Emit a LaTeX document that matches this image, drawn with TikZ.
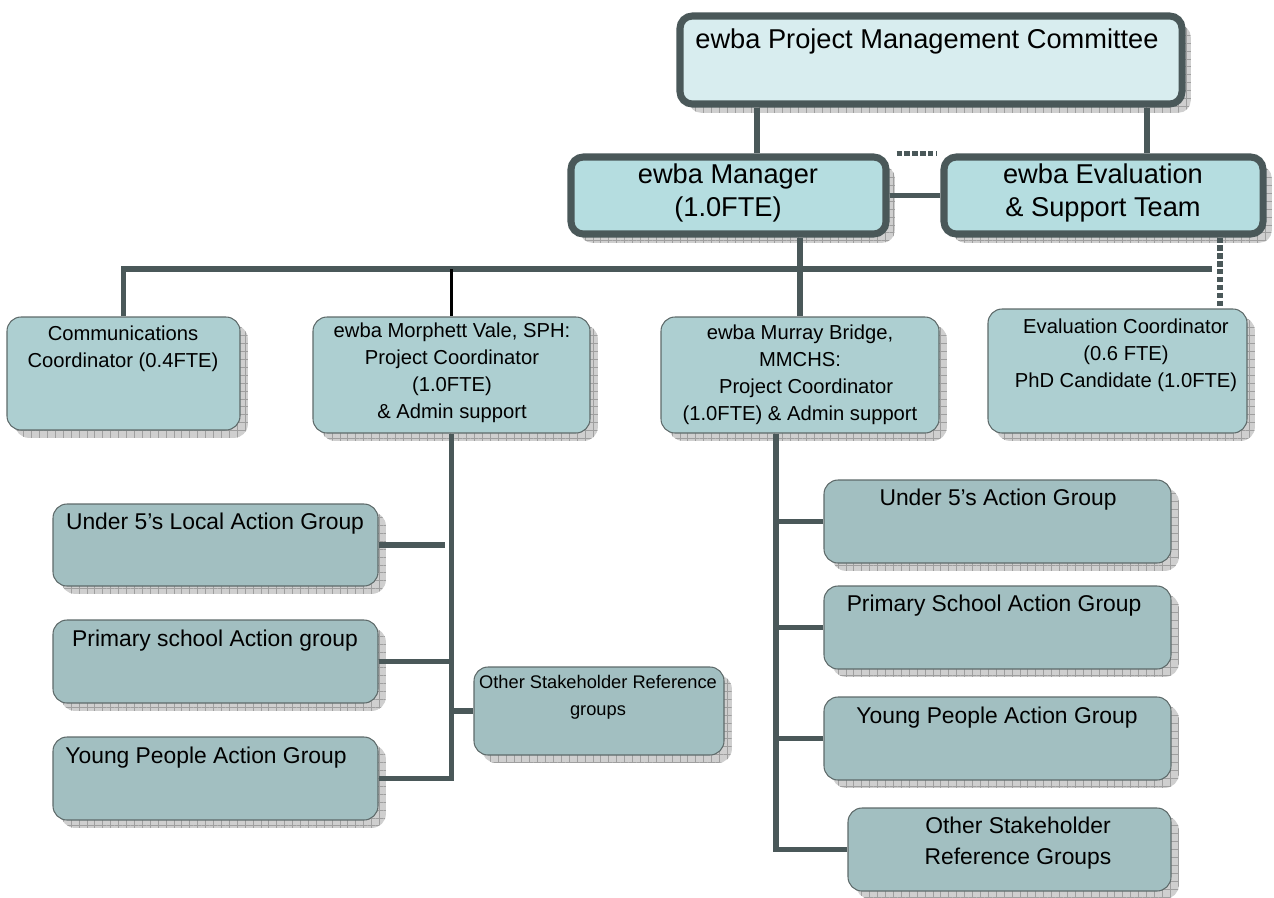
\documentclass[tikz,border=0pt]{standalone}
\usepackage{fontspec}
\setmainfont{Liberation Sans}
\usetikzlibrary{positioning,fit,shadows,patterns.meta}

\definecolor{pmcfill}{HTML}{D8EDEF}
\definecolor{topfill}{HTML}{B5DDE0}
\definecolor{midfill}{HTML}{ADCFD1}
\definecolor{actfill}{HTML}{A2BFC1}
\definecolor{linec}{HTML}{4A5859}
\definecolor{edgec}{HTML}{5E6A6A}

\tikzset{
  hatch/.style={general shadow={shadow xshift=#1, shadow yshift=-#1, fill=gray!38},
                general shadow={shadow xshift=#1, shadow yshift=-#1,
                  pattern={Hatch[distance=4.5pt, angle=0, line width=0.45pt]}, pattern color=gray!75}},
  topbox/.style={draw=linec, line width=4pt, rounded corners=7pt, inner sep=0pt, hatch=5pt},
  box/.style={draw=edgec, line width=0.6pt, rounded corners=8pt, inner sep=0pt, fill=midfill, hatch=4.5pt},
  actbox/.style={box, fill=actfill},
  conn/.style={draw=linec, line width=3.3pt},
  dotconn/.style={conn, dash pattern=on 3pt off 1.5pt},
  txt/.style={inner sep=0pt, align=center},
  big/.style={txt, font=\fontsize{15.5}{18.7}\selectfont},
  mid/.style={txt, font=\fontsize{11.5}{15.3}\selectfont},
  act/.style={txt, font=\fontsize{13}{17.6}\selectfont},
  small/.style={txt, font=\fontsize{10.4}{15.3}\selectfont}
}

\begin{document}
\begin{tikzpicture}[x=0.02cm, y=-0.02cm]
\useasboundingbox (0,0) rectangle (1274,897);

% committee, manager and evaluation team
\node[topbox, fill=pmcfill, fit={(680,16) (1182,104)}] (pmc) {};
\node[topbox, fill=topfill, fit={(571,157) (886,234)}] (mgr) {};
\node[topbox, fill=topfill, fit={(944,157) (1263,234)}] (evt) {};

% second row
\node[box, fit={(7,317) (240,430)}] (com) {};
\node[box, fit={(313,317) (590,433)}] (mor) {};
\node[box, fit={(661,317) (939,433)}] (mur) {};
\node[box, fit={(988,309) (1247,433)}] (evc) {};

% action groups, Morphett Vale
\node[actbox, fit={(53,504) (378,586)}] (u5l) {};
\node[actbox, fit={(53,620) (378,703)}] (psl) {};
\node[actbox, fit={(53,737) (378,820)}] (ypl) {};
\node[actbox, fit={(474,667) (724,755)}] (osl) {};

% action groups, Murray Bridge
\node[actbox, fit={(824,480) (1171,563)}] (u5r) {};
\node[actbox, fit={(824,586) (1171,669)}] (psr) {};
\node[actbox, fit={(824,697) (1171,780)}] (ypr) {};
\node[actbox, fit={(848,808) (1171,891)}] (osr) {};

\node[big] (pmc-t) at (927,41) {ewba Project Management Committee};
\node[big] (mgr-t) at (728,193) {ewba Manager\\(1.0FTE)};
\node[big] (evt-t) at (1103,193) {ewba Evaluation\\\& Support Team};

\node[mid] (com-t) at (123,349) {Communications\\Coordinator (0.4FTE)};
\node[mid] (mor-t) at (452,373) {ewba Morphett Vale, SPH:\\Project Coordinator\\(1.0FTE)\\\& Admin support};
\node[mid] (mur-t) at (800,375) {ewba Murray Bridge,\\MMCHS:\\\hspace*{0.6em}Project Coordinator\\(1.0FTE) \& Admin support};
\node[mid] (evc-t) at (1126,355) {Evaluation Coordinator\\(0.6 FTE)\\PhD Candidate (1.0FTE)};

\node[act] (u5l-t) at (215,524) {Under 5’s Local Action Group};
\node[act] (psl-t) at (215,641) {Primary school Action group};
\node[act] (ypl-t) at (206,758) {Young People Action Group};
\node[small] (osl-t) at (598,697) {Other Stakeholder Reference\\groups};

\node[act] (u5r-t) at (998,500) {Under 5’s Action Group};
\node[act] (psr-t) at (994,606) {Primary School Action Group};
\node[act] (ypr-t) at (997,718) {Young People Action Group};
\node[act] (osr-t) at (1018,843) {Other Stakeholder\\Reference Groups};

% connectors
\coordinate (busE) at (1212,269);

\draw[conn] (pmc.south -| 757,0) -- (mgr.north -| 757,0);
\draw[conn] (pmc.south -| 1147,0) -- (evt.north -| 1147,0);
\draw[conn] (mgr.east) -- (evt.west);
\draw[dotconn, shorten <=4pt, shorten >=2pt] (mgr.north east) -- (evt.north west);

\draw[conn] (com.north) |- (busE);
\draw[conn] (mgr.south -| mur.north) -- (mur.north);
\draw[black, line width=2pt] (mor.north |- busE) -- (mor.north);
\draw[dotconn] (evt.south -| 1220,0) -- (evc.north -| 1220,0);

\draw[conn] (mor.south) |- (ypl.east);
\draw[conn] (u5l.east) -- ++(66,0);
\draw[conn] (psl.east) -- (psl.east -| mor.south);
\draw[conn] (osl.west) -- (osl.west -| mor.south);

\draw[conn] (mur.south -| 776,0) |- (osr.west);
\foreach \g in {u5r,psr,ypr}
  \draw[conn] (\g.west) -- (\g.west -| 776,0);
\end{tikzpicture}
\end{document}
